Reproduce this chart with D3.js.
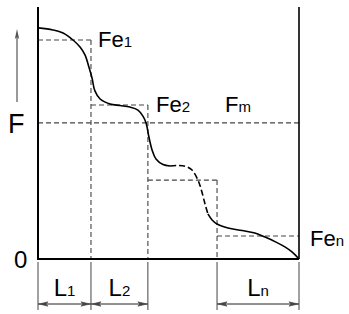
<!DOCTYPE html>
<html><head><meta charset="utf-8">
<script src="https://cdn.jsdelivr.net/npm/d3@7"></script>
<style>html,body{margin:0;padding:0;background:#fff}svg{display:block}text{font-family:"Liberation Sans",Arial,Helvetica,sans-serif;fill:#000}</style>
</head><body>
<script>
// Segment boundaries along length axis (units)
const boundaries = [0, 2.03, 4.21, 6.86, 10];
// Equivalent force per segment
const feValues = [8.69, 6.11, 3.13, 0.91];
const feLabels = [["Fe","1"], ["Fe","2"], null, ["Fe","n"]];
const fmValue = 5.40;
const lengthLabels = [["L","1"], ["L","2"], null, ["L","n"]];
// Force curve, piecewise (solid, dashed, solid)
const curveSolid1 = [[0,9.17],[0.57,9.09],[0.96,8.97],[1.34,8.69],[1.61,8.41],[1.80,8.10],[1.95,7.62],[2.07,7.18],[2.18,6.67],[2.38,6.35],[2.76,6.15],[3.14,6.09],[3.52,6.03],[3.83,5.91],[4.02,5.67],[4.14,5.40],[4.25,4.84],[4.37,4.33],[4.52,3.97],[4.79,3.75],[5.06,3.69]];
const curveDashed = [[5.06,3.69],[5.36,3.71],[5.67,3.67],[5.90,3.53],[6.13,3.13],[6.28,2.66],[6.40,2.18],[6.51,1.79]];
const curveSolid2 = [[6.51,1.79],[6.67,1.55],[6.86,1.39],[7.28,1.23],[7.82,1.13],[8.31,1.03],[8.70,0.87],[9.12,0.67],[9.46,0.48],[9.73,0.28],[10,0]];

const W = 349, H = 314;
const x = d3.scaleLinear().domain([0,10]).range([38,299]);
const y = d3.scaleLinear().domain([0,10]).range([259,7]);

const svg = d3.select("body").append("svg").attr("width",W).attr("height",H);
const gray = "#444";

const line = d3.line().x(d=>x(d[0])).y(d=>y(d[1])).curve(d3.curveCatmullRom.alpha(0.5));

// dashed guide lines
const dash = "5,3";
function dl(x1,y1,x2,y2){
  svg.append("line").attr("x1",x1).attr("y1",y1).attr("x2",x2).attr("y2",y2)
    .attr("stroke",gray).attr("stroke-width",1.1).attr("stroke-dasharray",dash);
}
feValues.forEach((v,i)=>{
  dl(x(boundaries[i]), y(v), x(boundaries[i+1]), y(v));
  if (i < feValues.length-1) dl(x(boundaries[i+1]), y(v), x(boundaries[i+1]), y(0));
});
dl(x(0), y(fmValue), x(10), y(fmValue));

// curve
svg.append("path").attr("d",line(curveSolid1)).attr("fill","none").attr("stroke","#000").attr("stroke-width",1.6);
svg.append("path").attr("d",line(curveDashed)).attr("fill","none").attr("stroke","#000").attr("stroke-width",1.6).attr("stroke-dasharray","6,3");
svg.append("path").attr("d",line(curveSolid2)).attr("fill","none").attr("stroke","#000").attr("stroke-width",1.6);

// axes frame
svg.append("line").attr("x1",x(0)).attr("x2",x(0)).attr("y1",y(10)).attr("y2",y(0)+1).attr("stroke","#000").attr("stroke-width",2);
svg.append("line").attr("x1",x(0)).attr("x2",x(10)).attr("y1",y(0)).attr("y2",y(0)).attr("stroke","#000").attr("stroke-width",2);
svg.append("line").attr("x1",x(10)).attr("x2",x(10)).attr("y1",y(10)).attr("y2",y(0)).attr("stroke","#000").attr("stroke-width",1.6);

// extension lines below axis
boundaries.forEach(b=>{
  svg.append("line").attr("x1",x(b)).attr("x2",x(b)).attr("y1",y(0)+3).attr("y2",y(0)+51)
    .attr("stroke",gray).attr("stroke-width",1);
});

// dimension arrows
const ay = y(0)+45;
function head(px, dir){ // dir = -1 pointing left, 1 pointing right
  svg.append("path").attr("d",`M${px},${ay} L${px-dir*9},${ay-2.2} L${px-dir*7},${ay} L${px-dir*9},${ay+2.2} Z`)
    .attr("fill",gray).attr("stroke",gray).attr("stroke-width",0.6);
}
lengthLabels.forEach((lab,i)=>{
  if(!lab) return;
  const x1 = x(boundaries[i]), x2 = x(boundaries[i+1]);
  svg.append("line").attr("x1",x1).attr("x2",x2).attr("y1",ay).attr("y2",ay).attr("stroke","#222").attr("stroke-width",1);
  head(x1+1,-1); head(x2-1,1);
  const t = svg.append("text").attr("x",(x1+x2)/2).attr("y",y(0)+37).attr("text-anchor","middle").attr("font-size",24);
  t.append("tspan").text(lab[0]);
  t.append("tspan").attr("font-size",15).text(lab[1]);
});

// Fe labels
const feLabelPos = [[98,47],[156,112],null,[310,246]];
feLabels.forEach((lab,i)=>{
  if(!lab) return;
  const t = svg.append("text").attr("x",feLabelPos[i][0]).attr("y",feLabelPos[i][1]).attr("font-size",22);
  t.append("tspan").text(lab[0]);
  t.append("tspan").attr("font-size",15).text(lab[1]);
});
const fm = svg.append("text").attr("x",225).attr("y",112).attr("font-size",22);
fm.append("tspan").text("F");
fm.append("tspan").attr("font-size",15).text("m");

// y axis label and arrow
svg.append("line").attr("x1",17).attr("x2",17).attr("y1",102).attr("y2",36).attr("stroke","#555").attr("stroke-width",1.2);
svg.append("path").attr("d","M17,29 L14.8,39 L17,37 L19.2,39 Z").attr("fill","#555");
svg.append("text").attr("x",8).attr("y",133).attr("font-size",27).text("F");
svg.append("text").attr("x",14).attr("y",268).attr("font-size",24).text("0");
</script>
</body></html>
